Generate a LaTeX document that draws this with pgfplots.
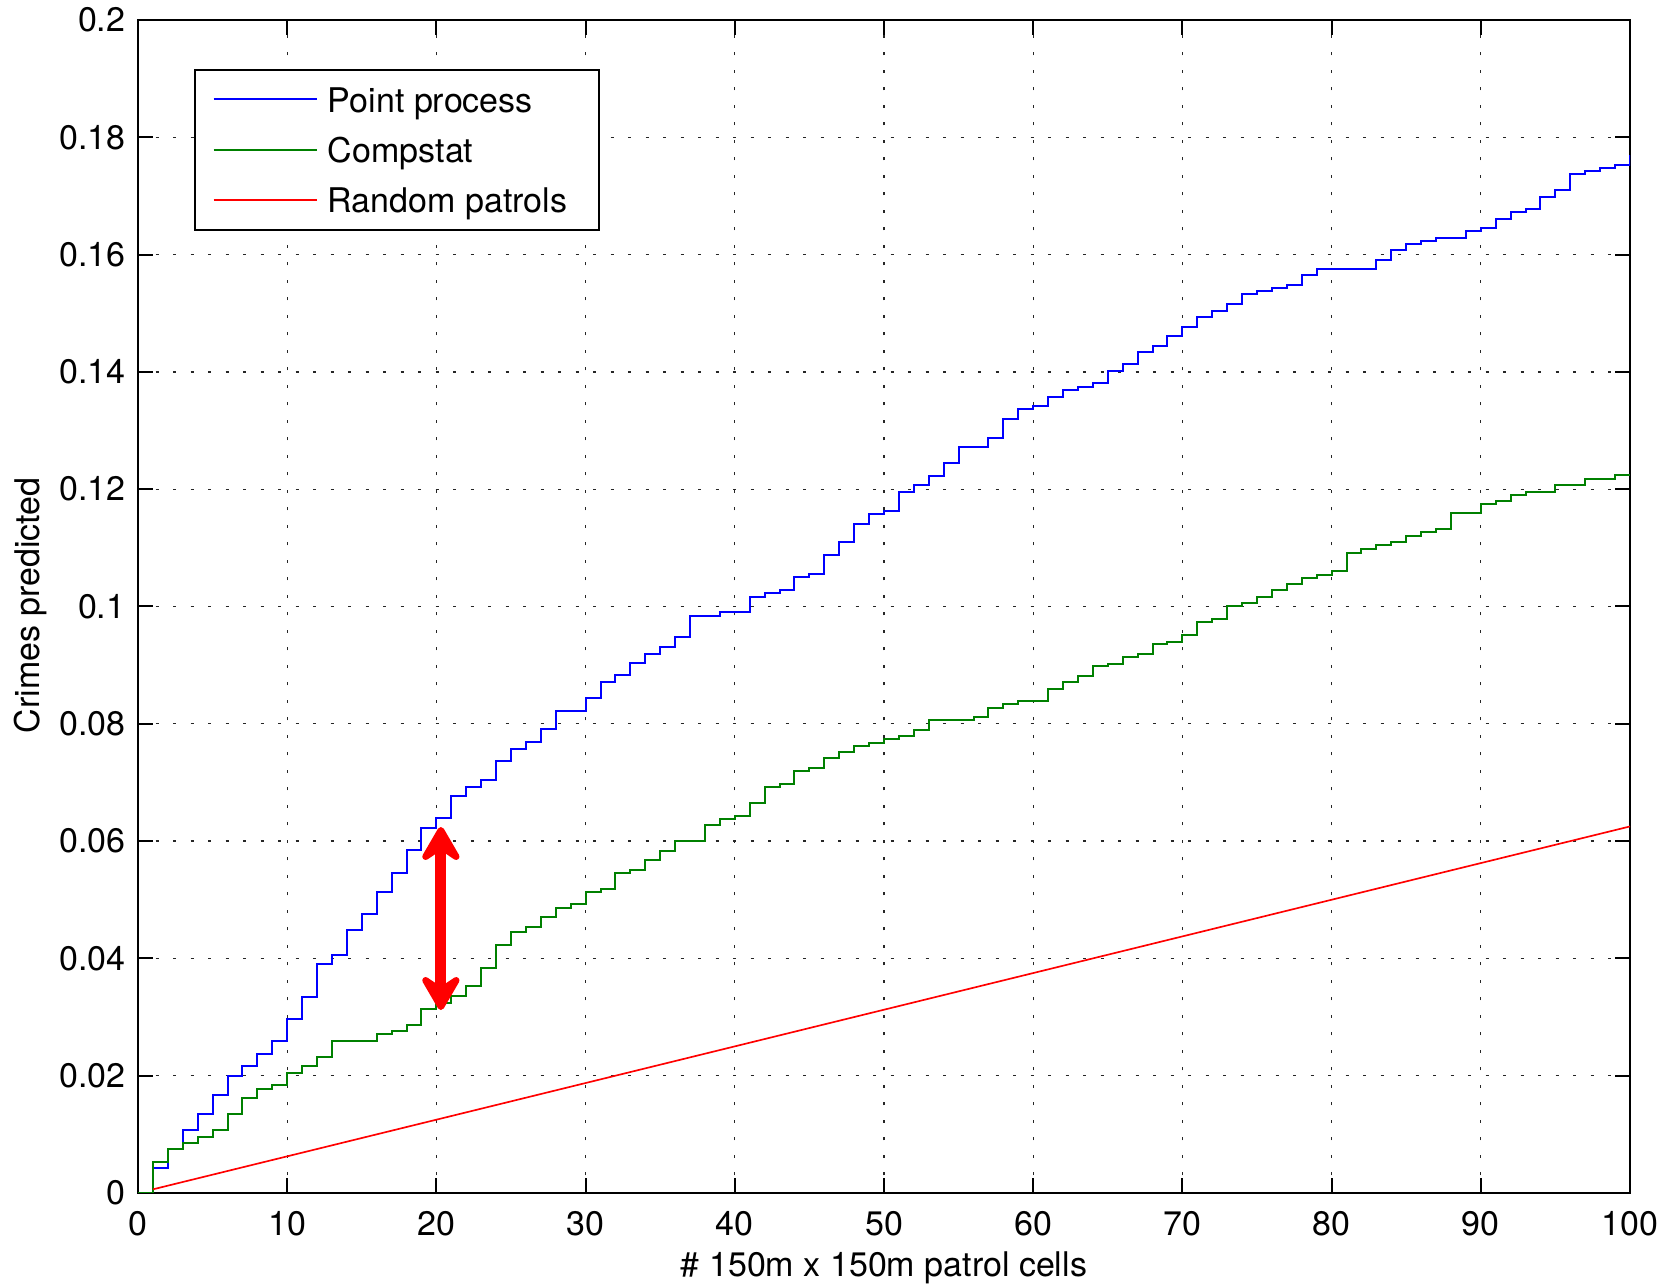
\documentclass[border=0pt]{standalone}
\usepackage{fontspec}
\setmainfont{TeX Gyre Heros}
\usepackage{pgfplots}
\usepackage{pgfplotstable}
\pgfplotsset{compat=1.18}
\usetikzlibrary{arrows.meta}
\definecolor{mblue}{rgb}{0,0,1}
\definecolor{mgreen}{rgb}{0,0.5,0}
\definecolor{mred}{rgb}{1,0,0}

\pgfplotstableread{
x y
0 0
1 0.00421
2 0.00750
3 0.01074
4 0.01353
5 0.01677
6 0.02000
7 0.02160
8 0.02376
9 0.02592
10 0.02973
11 0.03348
12 0.03900
13 0.04064
14 0.04485
15 0.04758
16 0.05138
17 0.05462
18 0.05843
19 0.06230
20 0.06386
21 0.06767
22 0.06930
23 0.07037
24 0.07368
25 0.07578
26 0.07682
27 0.07904
28 0.08222
29 0.08222
30 0.08443
31 0.08710
32 0.08824
33 0.09034
34 0.09193
35 0.09307
36 0.09472
37 0.09841
38 0.09841
39 0.09909
40 0.09909
41 0.10170
42 0.10227
43 0.10278
44 0.10500
45 0.10550
46 0.10873
47 0.11095
48 0.11407
49 0.11584
50 0.11635
51 0.11954
52 0.12068
53 0.12233
54 0.12443
55 0.12725
56 0.12725
57 0.12875
58 0.13205
59 0.13364
60 0.13420
61 0.13580
62 0.13693
63 0.13750
64 0.13807
65 0.14017
66 0.14131
67 0.14347
68 0.14447
69 0.14612
70 0.14772
71 0.14937
72 0.15046
73 0.15154
74 0.15320
75 0.15371
76 0.15429
77 0.15487
78 0.15646
79 0.15751
80 0.15751
81 0.15751
82 0.15751
83 0.15908
84 0.16078
85 0.16180
86 0.16236
87 0.16288
88 0.16288
89 0.16395
90 0.16446
91 0.16611
92 0.16730
93 0.16775
94 0.16985
95 0.17104
96 0.17371
97 0.17422
98 0.17478
99 0.17529
100 0.17694
}\pointprocess

\pgfplotstableread{
x y
0 0
1 0.00529
2 0.00750
3 0.00858
4 0.00960
5 0.01074
6 0.01347
7 0.01614
8 0.01779
9 0.01836
10 0.02052
11 0.02160
12 0.02325
13 0.02592
14 0.02592
15 0.02592
16 0.02705
17 0.02756
18 0.02866
19 0.03135
20 0.03239
21 0.03352
22 0.03523
23 0.03841
24 0.04222
25 0.04449
26 0.04540
27 0.04705
28 0.04863
29 0.04925
30 0.05132
31 0.05183
32 0.05455
33 0.05511
34 0.05670
35 0.05830
36 0.06000
37 0.06000
38 0.06267
39 0.06375
40 0.06432
41 0.06648
42 0.06915
43 0.06972
44 0.07193
45 0.07244
46 0.07409
47 0.07511
48 0.07619
49 0.07676
50 0.07733
51 0.07784
52 0.07892
53 0.08057
54 0.08057
55 0.08057
56 0.08108
57 0.08273
58 0.08330
59 0.08386
60 0.08386
61 0.08597
62 0.08705
63 0.08813
64 0.08977
65 0.09028
66 0.09136
67 0.09193
68 0.09352
69 0.09403
70 0.09517
71 0.09733
72 0.09784
73 0.10000
74 0.10057
75 0.10165
76 0.10278
77 0.10381
78 0.10489
79 0.10540
80 0.10597
81 0.10920
82 0.10985
83 0.11046
84 0.11100
85 0.11210
86 0.11264
87 0.11319
88 0.11587
89 0.11587
90 0.11740
91 0.11804
92 0.11906
93 0.11959
94 0.11959
95 0.12068
96 0.12068
97 0.12179
98 0.12179
99 0.12241
100 0.12241
}\compstat

\begin{document}
\fontsize{10.2bp}{12bp}\selectfont
\begin{tikzpicture}
\useasboundingbox (-41.4bp,-27.3bp) rectangle (462.6bp,357.9bp);
\begin{axis}[
  scale only axis, width=447.6bp, height=351.9bp,
  xmin=0, xmax=100, ymin=0, ymax=0.2,
  xtick={0,10,20,30,40,50,60,70,80,90,100},
  xticklabels={0,10,20,30,40,50,60,70,80,90,100},
  ytick={0,0.02,0.04,0.06,0.08,0.1,0.12,0.14,0.16,0.18,0.2},
  yticklabels={0,0.02,0.04,0.06,0.08,0.1,0.12,0.14,0.16,0.18,0.2},
  scaled ticks=false,
  grid=major,
  major grid style={black!85, line width=0.4bp, dash pattern=on 1bp off 4.25bp},
  axis line style={line width=0.6bp, black},
  tick style={line width=0.6bp, black},
  major tick length=4.5bp,
  tick align=inside,
  xticklabel style={anchor=north, inner sep=0pt, yshift=-5.3bp},
  yticklabel style={anchor=east, inner sep=0pt, xshift=-3.6bp},
  xlabel={\# 150m x 150m patrol cells},
  ylabel={Crimes predicted},
  every axis x label/.style={at={(axis description cs:0.5,-0.0634)}, anchor=center},
  every axis y label/.style={at={(axis description cs:-0.0722,0.501)}, anchor=center, rotate=90},
  legend style={at={(axis cs:3.75,0.1917)}, anchor=north west, draw=black, line width=0.6bp,
    inner xsep=0pt, inner ysep=1.4bp, row sep=0pt, column sep=0pt,
    nodes={inner xsep=0pt, inner ysep=2.55bp, text height=8.8bp, text depth=1.2bp}},
  legend cell align=left,
  legend image code/.code={\path (0bp,0bp) (39.3bp,0bp); \draw[#1, line width=0.6bp] (5.3bp,0bp) -- (36.3bp,0bp);},
]
\addplot[mblue, line width=0.6bp, const plot] table[x=x, y=y] {\pointprocess};
\addlegendentry{\makebox[81.2bp][l]{Point process}}
\addplot[mgreen, line width=0.6bp, const plot] table[x=x, y=y] {\compstat};
\addlegendentry{\makebox[81.2bp][l]{Compstat}}
\addplot[mred, line width=0.5bp] coordinates {(1,0.000625) (100,0.0625)};
\addlegendentry{\makebox[81.2bp][l]{Random patrols}}
\draw[mred, line width=3.3bp, {Stealth[length=13bp,width=15bp,inset=5bp,round]}-{Stealth[length=13bp,width=15bp,inset=5bp,round]}] (axis cs:20.3,0.0312) -- (axis cs:20.3,0.0624);
\end{axis}
\end{tikzpicture}
\end{document}
